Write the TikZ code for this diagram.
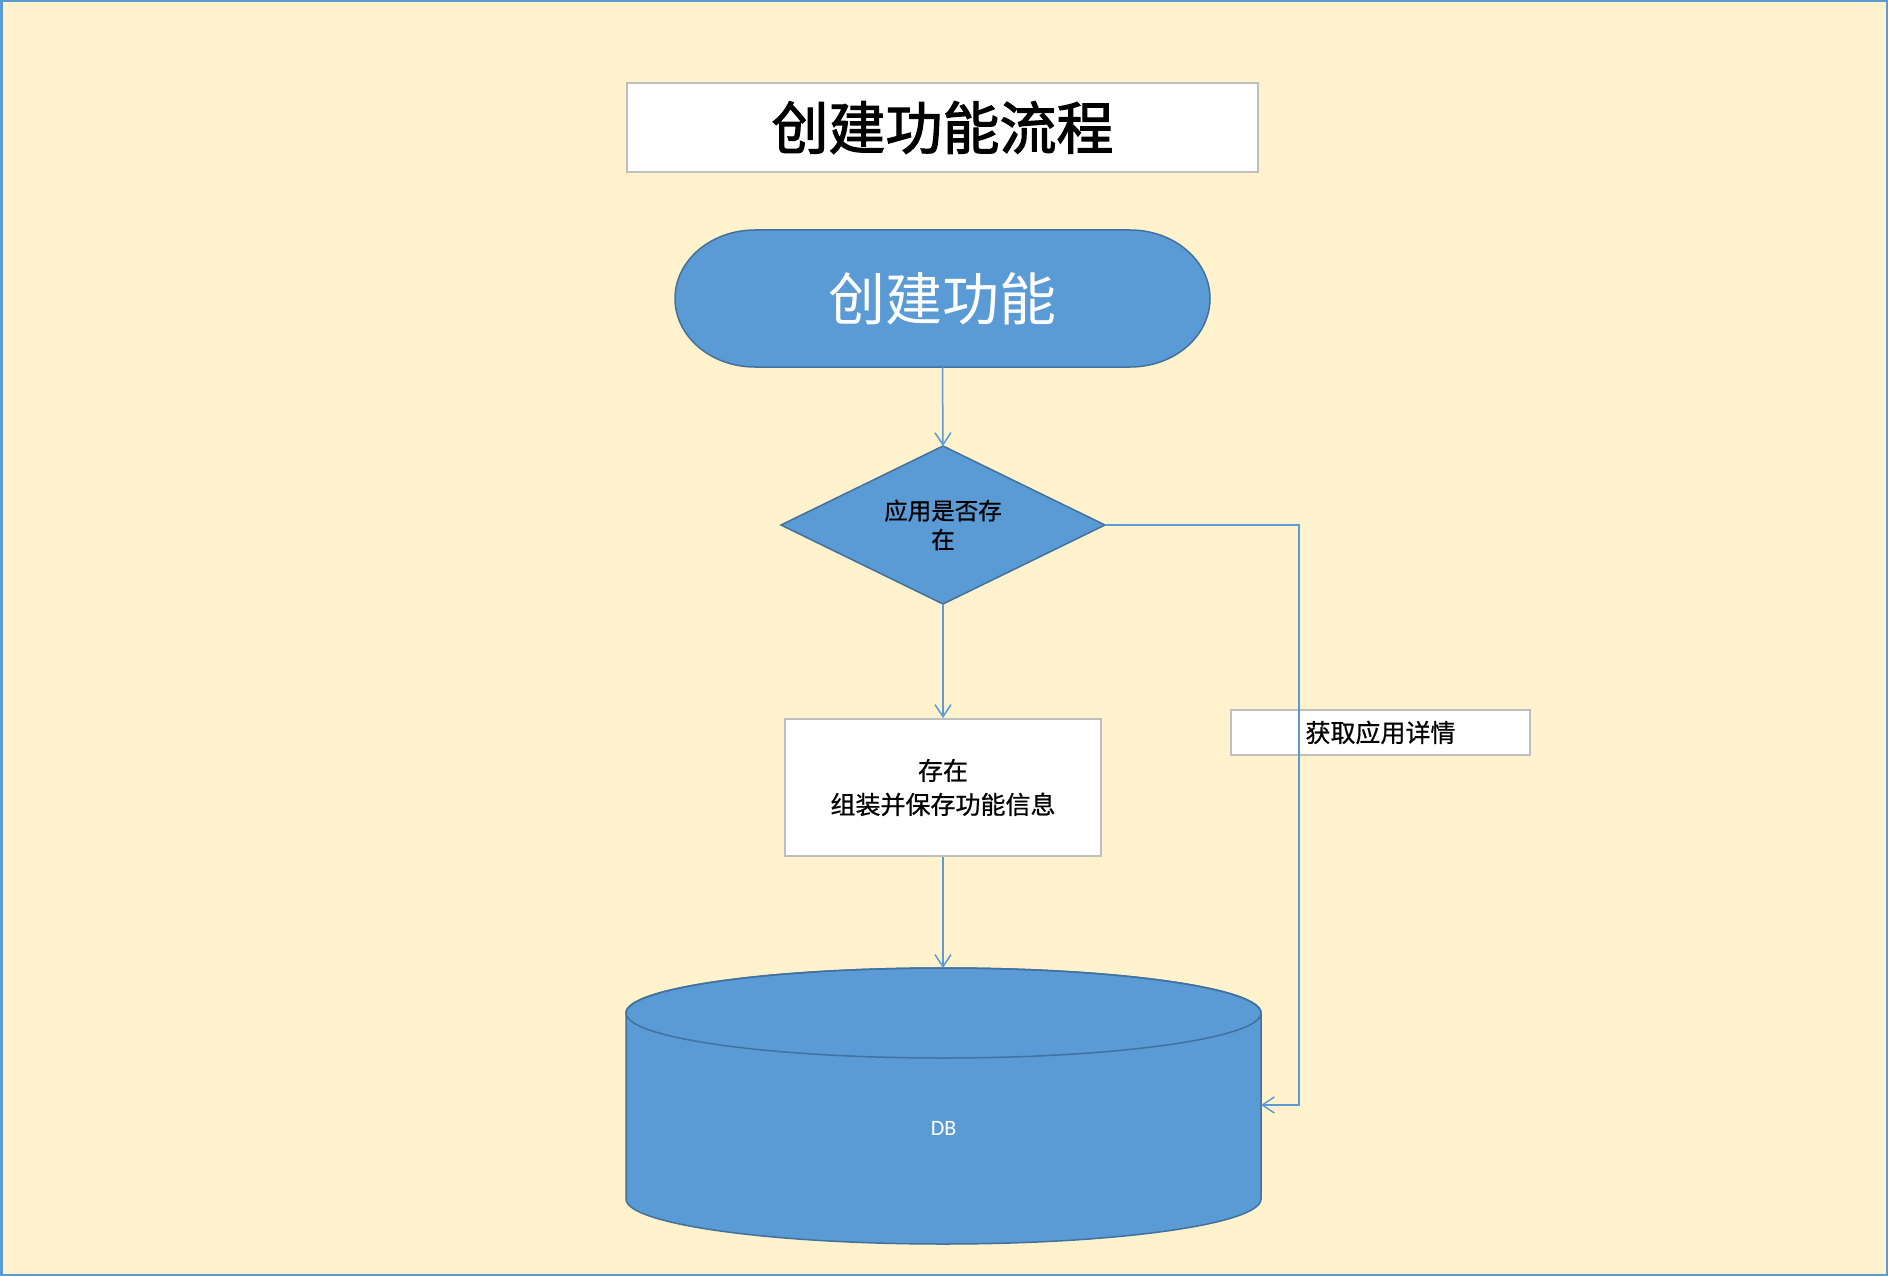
\documentclass[tikz,border=0pt]{standalone}
\usepackage{fontspec}
\newfontfamily\cjk{Noto Sans CJK SC}
\newfontfamily\cjkt[FakeBold=2]{Noto Sans CJK SC}
\newfontfamily\cjkm[FakeBold=0.7]{Noto Sans CJK SC}
\newfontfamily\dbfont{Carlito}
\usetikzlibrary{shapes.geometric,arrows.meta}
\definecolor{bg}{HTML}{FFF2CC}
\definecolor{mblue}{HTML}{5B9BD5}
\definecolor{dblue}{HTML}{41719C}
\definecolor{gbord}{HTML}{BFBFBF}
\begin{document}
\begin{tikzpicture}[x=1pt,y=-1pt,
  conn/.style={draw=mblue, line width=1.5pt, -{Straight Barb[length=12pt,width=16pt]}},
  wbox/.style={draw=gbord, line width=2pt, fill=white, inner sep=0pt},
  bshape/.style={fill=mblue, draw=dblue, line width=1.5pt},
  anchorbox/.style={inner sep=0pt, outer sep=0pt},
]
\useasboundingbox (0,0) rectangle (1888,1276);
\fill[bg] (0,0) rectangle (1888,1276);
\draw[mblue, line width=2.5pt] (1.25,1.25) rectangle (1886.75,1274.75);

% title
\node[wbox, minimum width=631pt, minimum height=89pt, font=\cjkt\fontsize{57}{68}\selectfont] (title) at (942.5,127.5) {创建功能流程};

% start terminal
\path[bshape] (755,230) -- (1130,230)
  arc[start angle=-90, end angle=90, x radius=80, y radius=68.5]
  -- (755,367)
  arc[start angle=90, end angle=270, x radius=80, y radius=68.5] -- cycle;
\node[anchorbox, minimum width=535pt, minimum height=137pt, text=white, font=\cjk\fontsize{57}{68}\selectfont] (start) at (942.5,298.5) {创建功能};

% decision
\node[diamond, aspect=2.05, bshape, minimum width=324pt, minimum height=158pt, inner sep=0pt, outer sep=0pt, align=center, font=\cjkm\fontsize{23.5}{29}\selectfont] (dec) at (943,525) {应用是否存\\在};

% process box
\node[wbox, minimum width=316pt, minimum height=137pt, align=center, font=\cjkm\fontsize{25}{34}\selectfont] (proc) at (943,787.5) {存在\\组装并保存功能信息};

% label box
\node[wbox, minimum width=299pt, minimum height=45pt, font=\cjkm\fontsize{25}{30}\selectfont] (lbl) at (1380.5,732.5) {获取应用详情};

% database cylinder
\path[bshape] (626,1013) -- (626,1199)
  arc[start angle=180, end angle=0, x radius=317.5, y radius=45]
  -- (1261,1013)
  arc[start angle=0, end angle=-180, x radius=317.5, y radius=45] -- cycle;
\draw[dblue, line width=1.5pt] (943.5,1013) ellipse[x radius=317.5, y radius=45];
\node[anchorbox, text=white, font=\dbfont\fontsize{22}{26}\selectfont] (db) at (943.5,1128) {DB};
\coordinate (dbtop) at (943,968);
\coordinate (dbright) at (1261,1105);
\coordinate (bend) at (1299,1105);

% connectors
\draw[conn] (start.south) -- (dec.north);
\draw[conn] (dec.south) -- (proc.north);
\draw[conn] (proc.south) -- (dbtop);
\draw[conn] (dec.east) -| (bend) -- (dbright);
\end{tikzpicture}
\end{document}
